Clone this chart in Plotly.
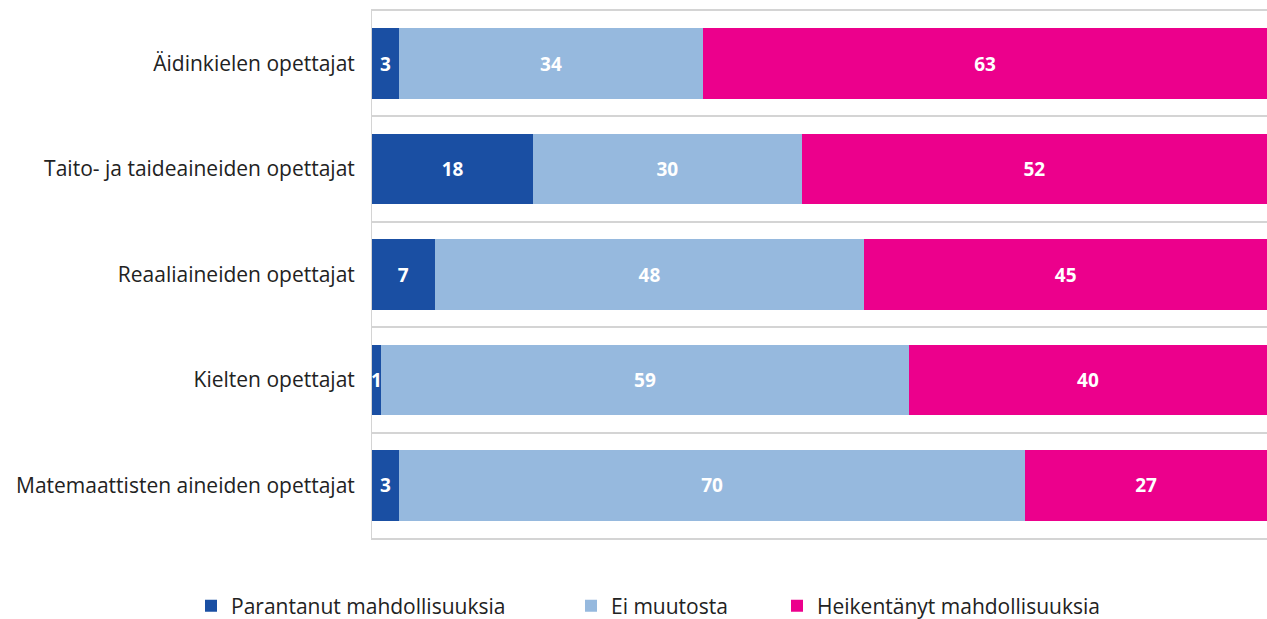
import plotly.graph_objects as go

categories = [
    "Äidinkielen opettajat",
    "Taito- ja taideaineiden opettajat",
    "Reaaliaineiden opettajat",
    "Kielten opettajat",
    "Matemaattisten aineiden opettajat",
]
parantanut = [3, 18, 7, 1, 3]
ei_muutosta = [34, 30, 48, 59, 70]
heikentanyt = [63, 52, 45, 40, 27]

series = [
    ("Parantanut mahdollisuuksia", parantanut, "#1a4fa3", "legend", 191),
    ("Ei muutosta", ei_muutosta, "#96b9de", "legend2", 571),
    ("Heikentänyt mahdollisuuksia", heikentanyt, "#ec008c", "legend3", 777),
]

FONT = "Open Sans"
W, H = 1267, 619

fig = go.Figure()
for name, vals, color, leg, _ in series:
    fig.add_trace(go.Bar(
        y=categories, x=vals, name=name, orientation="h",
        marker=dict(color=color, line=dict(width=0)),
        text=[str(v) for v in vals], textposition="inside",
        insidetextanchor="middle",
        textfont=dict(color="white", size=19, family=FONT),
        texttemplate="<b>%{text}</b>",
        cliponaxis=False,
        legend=leg,
    ))

legend_common = dict(
    orientation="h", xref="container", yref="container",
    y=(H - 606) / H, xanchor="left", yanchor="middle",
    font=dict(size=21, family=FONT, color="#222222"),
    itemclick=False, bgcolor="rgba(0,0,0,0)",
)
legends = {}
for name, vals, color, leg, xpx in series:
    legends[leg] = dict(legend_common, x=xpx / W)

fig.update_layout(
    barmode="stack",
    bargap=0.33,
    width=W, height=H,
    margin=dict(l=372, r=0, t=11, b=81, autoexpand=False),
    paper_bgcolor="white", plot_bgcolor="white",
    font=dict(family=FONT, color="#222222", size=21),
    uniformtext=dict(minsize=19, mode="show"),
    showlegend=True,
    xaxis=dict(range=[0, 100], showgrid=False, showticklabels=False,
               zeroline=False, showline=True, mirror=True,
               linecolor="#d4d4d4", linewidth=2, fixedrange=True),
    yaxis=dict(autorange="reversed", type="category", tickson="boundaries",
               showgrid=True, gridcolor="#d4d4d4", gridwidth=2,
               showline=True, linecolor="#d4d4d4", linewidth=1,
               ticks="", ticklabelstandoff=12, automargin=False,
               tickfont=dict(size=21, family=FONT, color="#222222")),
    **legends,
)

fig.write_html("out.html", config={"displayModeBar": False},
               post_script="document.body.style.margin='0';")
